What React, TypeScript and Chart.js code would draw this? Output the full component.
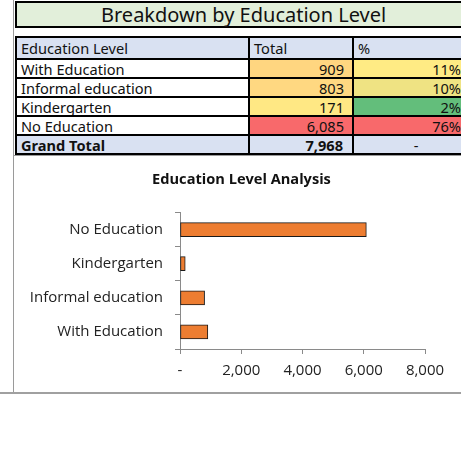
import React, { useEffect, useRef } from "react";
import { Chart, registerables } from "chart.js";

Chart.register(...registerables);

const categories = ["With Education", "Informal education", "Kindergarten", "No Education"];
const totals = [909, 803, 171, 6085];
const percents = ["11%", "10%", "2%", "76%"];
const grandTotal = "7,968";
const totalColors = ["#FFD680", "#FFD881", "#FFE884", "#F8696B"];
const percentColors = ["#FFEB84", "#EFE383", "#63BE7B", "#F8696B"];
const xTicks = [0, 2000, 4000, 6000, 8000];

const tableFont = "'Noto Sans', sans-serif";
const chartFont = "'Open Sans', sans-serif";

const rowLines = [36, 57.5, 76.5, 95.5, 114.5, 133.5, 153];
const colLines = [15, 248, 352, 480];

function Cell(props: { x0: number; x1: number; y0: number; y1: number; bg: string; align: string; bold?: boolean; text: string; pad?: number }) {
  const { x0, x1, y0, y1, bg, align, bold, text, pad } = props;
  return (
    <div
      style={{
        position: "absolute",
        left: x0,
        top: y0,
        width: x1 - x0,
        height: y1 - y0,
        background: bg,
        boxSizing: "border-box",
        border: "2px solid #000",
        fontFamily: tableFont,
        fontSize: 14.6,
        fontWeight: bold ? 700 : 400,
        lineHeight: `${y1 - y0 - 3}px`,
        textAlign: align as any,
        paddingLeft: align === "left" ? 4 : 0,
        paddingRight: align === "right" ? (pad ?? 6) : 0,
        color: "#111",
        whiteSpace: "nowrap",
        overflow: "hidden",
      }}
    >
      {text}
    </div>
  );
}

export default function App() {
  const ref = useRef<HTMLCanvasElement>(null);

  useEffect(() => {
    if (!ref.current) return;
    const chart = new Chart(ref.current, {
      type: "bar",
      data: {
        labels: categories,
        datasets: [
          {
            data: totals,
            backgroundColor: "#ED7D31",
            borderColor: "#1a1a1a",
            borderWidth: 1,
            borderSkipped: false,
            barThickness: 14,
            xAxisID: "x",
            yAxisID: "y",
          },
        ],
      },
      options: {
        indexAxis: "y",
        animation: false,
        responsive: false,
        maintainAspectRatio: false,
        layout: { padding: 0 },
        plugins: {
          legend: { display: false },
          tooltip: { enabled: false },
          title: {
            display: true,
            text: "Education Level Analysis",
            color: "#111",
            font: { family: chartFont, size: 14.6, weight: "bold", lineHeight: 1.2 },
            padding: { top: 15, bottom: 24 },
          },
        },
        scales: {
          x: {
            min: 0,
            max: 8000,
            afterFit: (s: any) => {
              s.height = 43;
            },
            afterBuildTicks: (s: any) => {
              s.ticks = xTicks.map((v) => ({ value: v }));
            },
            ticks: {
              color: "#222",
              padding: 8,
              font: { family: chartFont, size: 15 },
              callback: (v: any) => (Number(v) === 0 ? "-" : Number(v).toLocaleString("en-US")),
            },
            grid: { drawOnChartArea: false, drawTicks: true, tickLength: 5, color: "#8a8a8a" },
            border: { display: true, color: "#8a8a8a" },
          },
          y: {
            reverse: true,
            afterFit: (s: any) => {
              s.width = 158;
            },
            ticks: {
              color: "#222",
              padding: 12,
              font: { family: chartFont, size: 15 },
            },
            grid: { drawOnChartArea: false, drawTicks: true, tickLength: 5, color: "#8a8a8a", offset: true },
            border: { display: true, color: "#8a8a8a" },
          },
          spacer: {
            type: "linear",
            position: "right",
            axis: "y",
            display: true,
            afterFit: (s: any) => {
              s.width = 36;
            },
            ticks: { display: false },
            grid: { display: false, drawTicks: false },
            border: { display: false },
          },
        },
      },
    } as any);
    return () => chart.destroy();
  }, []);

  const rows = categories.map((c, i) => ({ c, t: totals[i].toLocaleString("en-US"), p: percents[i], i }));

  return (
    <div style={{ position: "absolute", left: 0, top: 0, width: 461, height: 449, overflow: "hidden", background: "#fff" }}>
      <div style={{ position: "absolute", left: 13, top: 0, width: 1, height: 393, background: "#9a9a9a" }} />
      <div
        style={{
          position: "absolute",
          left: 15,
          top: 1,
          width: 460,
          height: 27,
          boxSizing: "border-box",
          border: "2px solid #000",
          borderRight: "none",
          background: "#E2EFDA",
          fontFamily: tableFont,
          fontSize: 20,
          lineHeight: "23px",
          color: "#111",
          whiteSpace: "nowrap",
        }}
      >
        <span style={{ position: "absolute", left: 84 }}>Breakdown by Education Level</span>
      </div>
      <Cell x0={colLines[0]} x1={colLines[1] + 2} y0={rowLines[0]} y1={rowLines[1] + 2} bg="#D9E1F2" align="left" text="Education Level" />
      <Cell x0={colLines[1]} x1={colLines[2] + 2} y0={rowLines[0]} y1={rowLines[1] + 2} bg="#D9E1F2" align="left" text="Total" />
      <Cell x0={colLines[2]} x1={colLines[3]} y0={rowLines[0]} y1={rowLines[1] + 2} bg="#D9E1F2" align="left" text="%" />
      {rows.map((r) => (
        <React.Fragment key={r.c}>
          <Cell x0={colLines[0]} x1={colLines[1] + 2} y0={rowLines[r.i + 1]} y1={rowLines[r.i + 2] + 2} bg="#fff" align="left" text={r.c} />
          <Cell x0={colLines[1]} x1={colLines[2] + 2} y0={rowLines[r.i + 1]} y1={rowLines[r.i + 2] + 2} bg={totalColors[r.i]} align="right" pad={8} text={r.t} />
          <Cell x0={colLines[2]} x1={colLines[3]} y0={rowLines[r.i + 1]} y1={rowLines[r.i + 2] + 2} bg={percentColors[r.i]} align="right" pad={17} text={r.p} />
        </React.Fragment>
      ))}
      <Cell x0={colLines[0]} x1={colLines[1] + 2} y0={rowLines[5]} y1={rowLines[6] + 2} bg="#D9E1F2" align="left" bold text="Grand Total" />
      <Cell x0={colLines[1]} x1={colLines[2] + 2} y0={rowLines[5]} y1={rowLines[6] + 2} bg="#D9E1F2" align="right" pad={9} bold text={grandTotal} />
      <Cell x0={colLines[2]} x1={colLines[3]} y0={rowLines[5]} y1={rowLines[6] + 2} bg="#D9E1F2" align="center" text="-" />
      <div style={{ position: "absolute", left: 13, top: 155, width: 460, height: 1, background: "#9a9a9a" }} />
      <div style={{ position: "absolute", left: 0, top: 392, width: 461, height: 2, background: "#a0a0a0" }} />
      <canvas ref={ref} width={439} height={236} style={{ position: "absolute", left: 22, top: 156, width: 439, height: 236 }} />
    </div>
  );
}
